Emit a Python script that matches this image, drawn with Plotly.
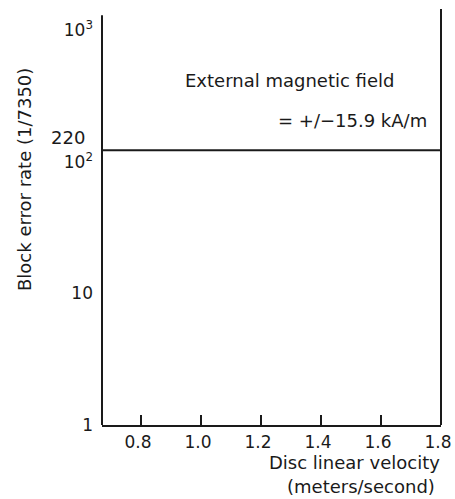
import plotly.graph_objects as go

# Data
velocity = [0.67, 1.8]
block_error = [122, 122]
x_ticks = [0.8, 1.0, 1.2, 1.4, 1.6, 1.8]
x_ticktext = ["0.8", "1.0", "1.2", "1.4", "1.6", "1.8"]
y_ticks = [1, 10, 100, 1000]
y_ticktext = ["1", "10", "10<sup>2</sup>", "10<sup>3</sup>"]

FONT = "DejaVu Sans"
C = "#1a1a1a"

fig = go.Figure()
fig.add_trace(go.Scatter(x=velocity, y=block_error, mode="lines",
                         line=dict(color=C, width=2), showlegend=False))

fig.update_layout(
    width=455, height=499,
    margin=dict(l=102, r=14, t=9, b=74),
    paper_bgcolor="white", plot_bgcolor="white",
    font=dict(family=FONT, size=17, color=C),
    xaxis=dict(range=[0.67, 1.8], tickvals=x_ticks, ticktext=x_ticktext,
               showgrid=False, zeroline=False, showline=True, linecolor=C, linewidth=2,
               ticks="inside", ticklen=10, tickwidth=1.5, tickcolor=C, automargin=False,
               ticklabelstandoff=1, ticklabelshift=-3,
               tickfont=dict(family=FONT, size=17, color=C)),
    yaxis=dict(type="log", range=[0, 3.16], tickvals=y_ticks, ticktext=y_ticktext,
               showgrid=False, zeroline=False, showline=False, automargin=False,
               ticks="", ticklabelstandoff=8,
               tickfont=dict(family=FONT, size=17, color=C)),
)

# axis lines (left starts slightly lower than right)
fig.add_shape(type="line", xref="paper", yref="paper", x0=0, x1=0, y0=0, y1=0.985,
              line=dict(color=C, width=2))
fig.add_shape(type="line", xref="paper", yref="paper", x0=1, x1=1, y0=0, y1=1,
              line=dict(color=C, width=2))

ann = [
    dict(text="External magnetic field", x=0.239, y=0.829, xanchor="left", yanchor="middle"),
    dict(text="= +/\u221215.9 kA/m", x=0.965, y=0.733, xanchor="right", yanchor="middle"),
    dict(text="220", x=-0.044, y=0.690, xanchor="right", yanchor="middle"),
    dict(text="Disc linear velocity", x=1.003, y=-0.091, xanchor="right", yanchor="middle"),
    dict(text="(meters/second)", x=0.988, y=-0.149, xanchor="right", yanchor="middle"),
    dict(text="Block error rate (1/7350)", x=-0.227, y=0.589, xanchor="center", yanchor="middle",
         textangle=-90),
]
for a in ann:
    fig.add_annotation(xref="paper", yref="paper", showarrow=False,
                       font=dict(family=FONT, size=18, color=C), **a)

# remove the browser's default 8px page margin so the figure fills the window
fig.write_html("out.html", config={"displayModeBar": False},
               post_script="document.body.style.margin='0px';")
